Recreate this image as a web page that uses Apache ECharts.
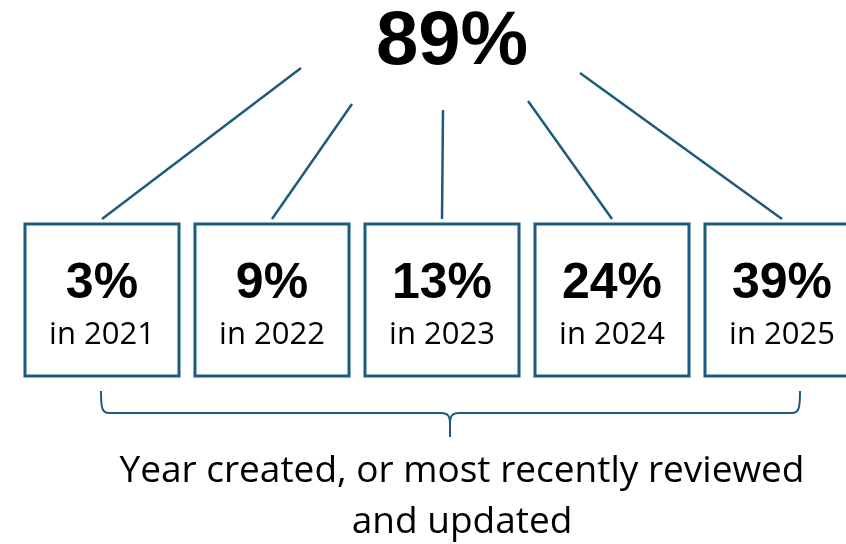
<!DOCTYPE html>
<html>
<head>
<meta charset="utf-8">
<style>
  html, body { margin: 0; padding: 0; background: #ffffff; }
  #chart { width: 846px; height: 544px; }
</style>
<script src="https://cdn.jsdelivr.net/npm/echarts@6/dist/echarts.min.js"></script>
</head>
<body>
<div id="chart"></div>
<script>
// Share reviewed by year, and the overall total
const total = 89;
const years = ['2021', '2022', '2023', '2024', '2025'];
const shares = [3, 9, 13, 24, 39];
const caption = ['Year created, or most recently reviewed', 'and updated'];

const BLUE = '#1d5b7c';
const BOX_W = 154, BOX_H = 152, BOX_TOP = 224;
// where each connector leaves the headline figure (relative to its centre)
const HEAD_X = 452;
const fanTops = [[-151, 68], [-100, 104], [-9, 110], [76, 101], [128, 73]];

const chart = echarts.init(document.getElementById('chart'), null, { renderer: 'canvas' });

chart.setOption({
  animation: false,
  grid: { left: 102, right: 64, top: 0, bottom: 0 },
  xAxis: { type: 'category', data: years, show: false, boundaryGap: false },
  yAxis: { type: 'value', show: false, min: 0, max: 1 },
  series: [{
    type: 'custom',
    data: shares.map((v, i) => [i, v]),
    renderItem: function (params, api) {
      const i = api.value(0);
      const cx = api.coord([i, 0])[0];
      const top = fanTops[i];
      return {
        type: 'group',
        children: [
          {
            type: 'line',
            shape: { x1: HEAD_X + top[0], y1: top[1], x2: cx, y2: BOX_TOP - 5 },
            style: { stroke: BLUE, lineWidth: 2.5 }
          },
          {
            type: 'rect',
            shape: { x: cx - BOX_W / 2, y: BOX_TOP, width: BOX_W, height: BOX_H },
            style: { fill: '#fff', stroke: BLUE, lineWidth: 3 }
          },
          {
            type: 'text',
            style: {
              x: cx, y: 309, text: api.value(1) + '%',
              align: 'center', verticalAlign: 'bottom',
              font: 'bold 50px "Liberation Sans"', fill: '#000'
            }
          },
          {
            type: 'text',
            style: {
              x: cx, y: 351, text: 'in ' + years[i],
              align: 'center', verticalAlign: 'bottom',
              font: '31px "Open Sans"', fill: '#000'
            }
          }
        ]
      };
    }
  }, {
    // curly brace grouping the five years
    type: 'custom',
    data: [[0, 0]],
    renderItem: function () {
      return {
        type: 'path',
        shape: {
          pathData: 'M101 391 C101 408 102 413 109 413 L441 413 C448 413 450 416 450 424 L450 437 ' +
                    'M450 424 C450 416 452 413 459 413 L792 413 C799 413 800 408 800 391'
        },
        style: { fill: null, stroke: BLUE, lineWidth: 2 }
      };
    }
  }],
  graphic: [
    {
      type: 'text',
      style: {
        x: HEAD_X, y: 5, text: total + '%', align: 'center', verticalAlign: 'top',
        font: 'bold 76px "Liberation Sans"', fill: '#000'
      }
    },
    {
      type: 'text',
      style: {
        x: 462, y: 490, text: caption[0], align: 'center', verticalAlign: 'bottom',
        font: '37px "Open Sans"', fill: '#000'
      }
    },
    {
      type: 'text',
      style: {
        x: 462, y: 541, text: caption[1], align: 'center', verticalAlign: 'bottom',
        font: '37px "Open Sans"', fill: '#000'
      }
    }
  ]
});
</script>
</body>
</html>
